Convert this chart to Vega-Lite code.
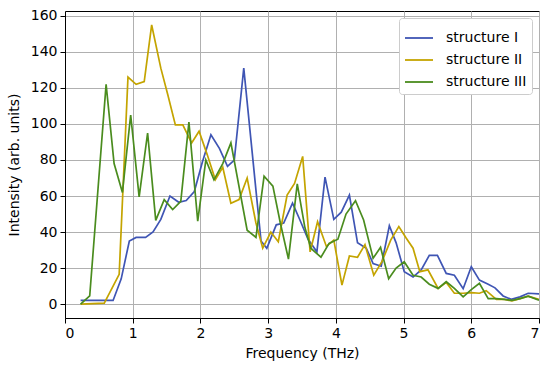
{
  "$schema": "https://vega.github.io/schema/vega-lite/v6.json",
  "width": 474,
  "height": 307,
  "autosize": {"type": "none"},
  "padding": {"left": 65, "top": 11, "right": 11, "bottom": 49},
  "config": {
    "font": "DejaVu Sans",
    "view": {"stroke": "black", "strokeWidth": 1},
    "axis": {
      "domainColor": "black",
      "tickColor": "black",
      "tickSize": 5,
      "labelColor": "black",
      "labelFontSize": 14,
      "titleFontSize": 14,
      "titleFontWeight": "normal",
      "titleColor": "black",
      "gridColor": "#b0b0b0",
      "gridOpacity": 1,
      "gridWidth": 1
    }
  },
  "data": {
    "values": [
      {"s": "structure I", "f": 0.23, "v": 2},
      {"s": "structure I", "f": 0.71, "v": 2},
      {"s": "structure I", "f": 0.83, "v": 14},
      {"s": "structure I", "f": 0.95, "v": 35},
      {"s": "structure I", "f": 1.05, "v": 37},
      {"s": "structure I", "f": 1.19, "v": 37},
      {"s": "structure I", "f": 1.3, "v": 40},
      {"s": "structure I", "f": 1.415, "v": 47},
      {"s": "structure I", "f": 1.55, "v": 60},
      {"s": "structure I", "f": 1.68, "v": 56.5},
      {"s": "structure I", "f": 1.79, "v": 57.5},
      {"s": "structure I", "f": 1.91, "v": 62.5},
      {"s": "structure I", "f": 2.03, "v": 79},
      {"s": "structure I", "f": 2.155, "v": 94},
      {"s": "structure I", "f": 2.28, "v": 86.5},
      {"s": "structure I", "f": 2.4, "v": 76.5},
      {"s": "structure I", "f": 2.5, "v": 80},
      {"s": "structure I", "f": 2.64, "v": 131},
      {"s": "structure I", "f": 2.895, "v": 35},
      {"s": "structure I", "f": 2.98, "v": 31},
      {"s": "structure I", "f": 3.12, "v": 44},
      {"s": "structure I", "f": 3.23, "v": 45},
      {"s": "structure I", "f": 3.36, "v": 56},
      {"s": "structure I", "f": 3.46, "v": 47.5},
      {"s": "structure I", "f": 3.59, "v": 36},
      {"s": "structure I", "f": 3.72, "v": 29},
      {"s": "structure I", "f": 3.84, "v": 70.5},
      {"s": "structure I", "f": 3.97, "v": 47},
      {"s": "structure I", "f": 4.08, "v": 51},
      {"s": "structure I", "f": 4.2, "v": 60.5},
      {"s": "structure I", "f": 4.32, "v": 34},
      {"s": "structure I", "f": 4.45, "v": 31},
      {"s": "structure I", "f": 4.55, "v": 22.5},
      {"s": "structure I", "f": 4.67, "v": 21},
      {"s": "structure I", "f": 4.79, "v": 43.5},
      {"s": "structure I", "f": 4.89, "v": 34},
      {"s": "structure I", "f": 5.01, "v": 18},
      {"s": "structure I", "f": 5.14, "v": 15},
      {"s": "structure I", "f": 5.26, "v": 19},
      {"s": "structure I", "f": 5.38, "v": 27},
      {"s": "structure I", "f": 5.5, "v": 27},
      {"s": "structure I", "f": 5.63, "v": 17},
      {"s": "structure I", "f": 5.75, "v": 16},
      {"s": "structure I", "f": 5.88, "v": 8.5},
      {"s": "structure I", "f": 6.0, "v": 20.7},
      {"s": "structure I", "f": 6.12, "v": 13.3},
      {"s": "structure I", "f": 6.25, "v": 11},
      {"s": "structure I", "f": 6.35, "v": 9},
      {"s": "structure I", "f": 6.47, "v": 4.5},
      {"s": "structure I", "f": 6.59, "v": 2.6},
      {"s": "structure I", "f": 6.72, "v": 4},
      {"s": "structure I", "f": 6.84, "v": 6},
      {"s": "structure I", "f": 7.0, "v": 5.6},

      {"s": "structure II", "f": 0.23, "v": 0},
      {"s": "structure II", "f": 0.58, "v": 0.5},
      {"s": "structure II", "f": 0.8, "v": 16.5},
      {"s": "structure II", "f": 0.93, "v": 126},
      {"s": "structure II", "f": 1.05, "v": 122},
      {"s": "structure II", "f": 1.17, "v": 123.5},
      {"s": "structure II", "f": 1.28, "v": 155},
      {"s": "structure II", "f": 1.415, "v": 131},
      {"s": "structure II", "f": 1.52, "v": 116},
      {"s": "structure II", "f": 1.63, "v": 99.5},
      {"s": "structure II", "f": 1.74, "v": 99.5},
      {"s": "structure II", "f": 1.87, "v": 89.5},
      {"s": "structure II", "f": 1.98, "v": 96},
      {"s": "structure II", "f": 2.1, "v": 83},
      {"s": "structure II", "f": 2.22, "v": 69},
      {"s": "structure II", "f": 2.33, "v": 76},
      {"s": "structure II", "f": 2.45, "v": 56},
      {"s": "structure II", "f": 2.57, "v": 58},
      {"s": "structure II", "f": 2.69, "v": 70},
      {"s": "structure II", "f": 2.82, "v": 45},
      {"s": "structure II", "f": 2.92, "v": 31},
      {"s": "structure II", "f": 3.04, "v": 40},
      {"s": "structure II", "f": 3.15, "v": 34.6},
      {"s": "structure II", "f": 3.28, "v": 60.5},
      {"s": "structure II", "f": 3.39, "v": 67},
      {"s": "structure II", "f": 3.51, "v": 82},
      {"s": "structure II", "f": 3.62, "v": 29},
      {"s": "structure II", "f": 3.73, "v": 45.7},
      {"s": "structure II", "f": 3.86, "v": 32},
      {"s": "structure II", "f": 3.97, "v": 35.5},
      {"s": "structure II", "f": 4.09, "v": 10.5},
      {"s": "structure II", "f": 4.2, "v": 26.7},
      {"s": "structure II", "f": 4.32, "v": 26},
      {"s": "structure II", "f": 4.43, "v": 33},
      {"s": "structure II", "f": 4.56, "v": 16},
      {"s": "structure II", "f": 4.68, "v": 23.5},
      {"s": "structure II", "f": 4.81, "v": 35.5},
      {"s": "structure II", "f": 4.93, "v": 43},
      {"s": "structure II", "f": 5.04, "v": 36.5},
      {"s": "structure II", "f": 5.14, "v": 31},
      {"s": "structure II", "f": 5.24, "v": 18},
      {"s": "structure II", "f": 5.36, "v": 19},
      {"s": "structure II", "f": 5.51, "v": 8.7},
      {"s": "structure II", "f": 5.63, "v": 12},
      {"s": "structure II", "f": 5.75, "v": 6},
      {"s": "structure II", "f": 5.88, "v": 6},
      {"s": "structure II", "f": 6.0, "v": 6.3},
      {"s": "structure II", "f": 6.12, "v": 6},
      {"s": "structure II", "f": 6.22, "v": 7.4},
      {"s": "structure II", "f": 6.37, "v": 2.6},
      {"s": "structure II", "f": 6.49, "v": 2.6},
      {"s": "structure II", "f": 6.6, "v": 1.7},
      {"s": "structure II", "f": 6.72, "v": 3},
      {"s": "structure II", "f": 6.84, "v": 4.4},
      {"s": "structure II", "f": 7.0, "v": 2.6},

      {"s": "structure III", "f": 0.23, "v": 0},
      {"s": "structure III", "f": 0.365, "v": 4.5},
      {"s": "structure III", "f": 0.607, "v": 122},
      {"s": "structure III", "f": 0.725, "v": 78},
      {"s": "structure III", "f": 0.848, "v": 62},
      {"s": "structure III", "f": 0.97, "v": 105},
      {"s": "structure III", "f": 1.095, "v": 59.5},
      {"s": "structure III", "f": 1.22, "v": 95},
      {"s": "structure III", "f": 1.34, "v": 46.5},
      {"s": "structure III", "f": 1.465, "v": 58},
      {"s": "structure III", "f": 1.59, "v": 52.5},
      {"s": "structure III", "f": 1.71, "v": 57},
      {"s": "structure III", "f": 1.83, "v": 101},
      {"s": "structure III", "f": 1.96, "v": 46},
      {"s": "structure III", "f": 2.08, "v": 80},
      {"s": "structure III", "f": 2.2, "v": 69},
      {"s": "structure III", "f": 2.33, "v": 78},
      {"s": "structure III", "f": 2.45, "v": 89.5},
      {"s": "structure III", "f": 2.69, "v": 41},
      {"s": "structure III", "f": 2.82, "v": 37},
      {"s": "structure III", "f": 2.94, "v": 71},
      {"s": "structure III", "f": 3.07, "v": 65.5},
      {"s": "structure III", "f": 3.18, "v": 45},
      {"s": "structure III", "f": 3.3, "v": 25},
      {"s": "structure III", "f": 3.43, "v": 66.7},
      {"s": "structure III", "f": 3.54, "v": 43},
      {"s": "structure III", "f": 3.63, "v": 31},
      {"s": "structure III", "f": 3.78, "v": 26},
      {"s": "structure III", "f": 3.9, "v": 33.7},
      {"s": "structure III", "f": 4.03, "v": 36},
      {"s": "structure III", "f": 4.15, "v": 50},
      {"s": "structure III", "f": 4.29, "v": 57.4},
      {"s": "structure III", "f": 4.41, "v": 46.7},
      {"s": "structure III", "f": 4.55, "v": 25.4},
      {"s": "structure III", "f": 4.66, "v": 31.5},
      {"s": "structure III", "f": 4.78, "v": 14},
      {"s": "structure III", "f": 4.89, "v": 20},
      {"s": "structure III", "f": 5.01, "v": 23.5},
      {"s": "structure III", "f": 5.14, "v": 16},
      {"s": "structure III", "f": 5.26, "v": 15},
      {"s": "structure III", "f": 5.38, "v": 11},
      {"s": "structure III", "f": 5.51, "v": 8.7},
      {"s": "structure III", "f": 5.63, "v": 12.4},
      {"s": "structure III", "f": 5.75, "v": 8.7},
      {"s": "structure III", "f": 5.88, "v": 4},
      {"s": "structure III", "f": 6.0, "v": 8},
      {"s": "structure III", "f": 6.12, "v": 11.5},
      {"s": "structure III", "f": 6.25, "v": 3},
      {"s": "structure III", "f": 6.37, "v": 3},
      {"s": "structure III", "f": 6.49, "v": 2.6},
      {"s": "structure III", "f": 6.6, "v": 2},
      {"s": "structure III", "f": 6.72, "v": 3},
      {"s": "structure III", "f": 6.84, "v": 4.4},
      {"s": "structure III", "f": 7.0, "v": 2.2}
    ]
  },
  "mark": {"type": "line", "strokeWidth": 1.7, "clip": true},
  "encoding": {
    "x": {
      "field": "f",
      "type": "quantitative",
      "scale": {"domain": [0, 7], "nice": false, "zero": false},
      "axis": {"values": [0, 1, 2, 3, 4, 5, 6, 7], "title": "Frequency (THz)", "titlePadding": 6, "labelPadding": 3}
    },
    "y": {
      "field": "v",
      "type": "quantitative",
      "scale": {"domain": [-7.75, 162.75], "nice": false, "zero": false},
      "axis": {"values": [0, 20, 40, 60, 80, 100, 120, 140, 160], "title": "Intensity (arb. units)", "titlePadding": 9, "labelPadding": 3}
    },
    "color": {
      "field": "s",
      "type": "nominal",
      "scale": {
        "domain": ["structure I", "structure II", "structure III"],
        "range": ["#3f55b4", "#c4a400", "#4a8c1e"]
      },
      "legend": {
        "title": null,
        "orient": "top-right",
        "offset": 7,
        "fillColor": "white",
        "strokeColor": "#cccccc",
        "cornerRadius": 3,
        "padding": 5,
        "symbolType": "stroke",
        "symbolSize": 784,
        "symbolStrokeWidth": 1.8,
        "labelFontSize": 14,
        "labelColor": "black",
        "rowPadding": -7,
        "labelOffset": 12
      }
    }
  }
}
